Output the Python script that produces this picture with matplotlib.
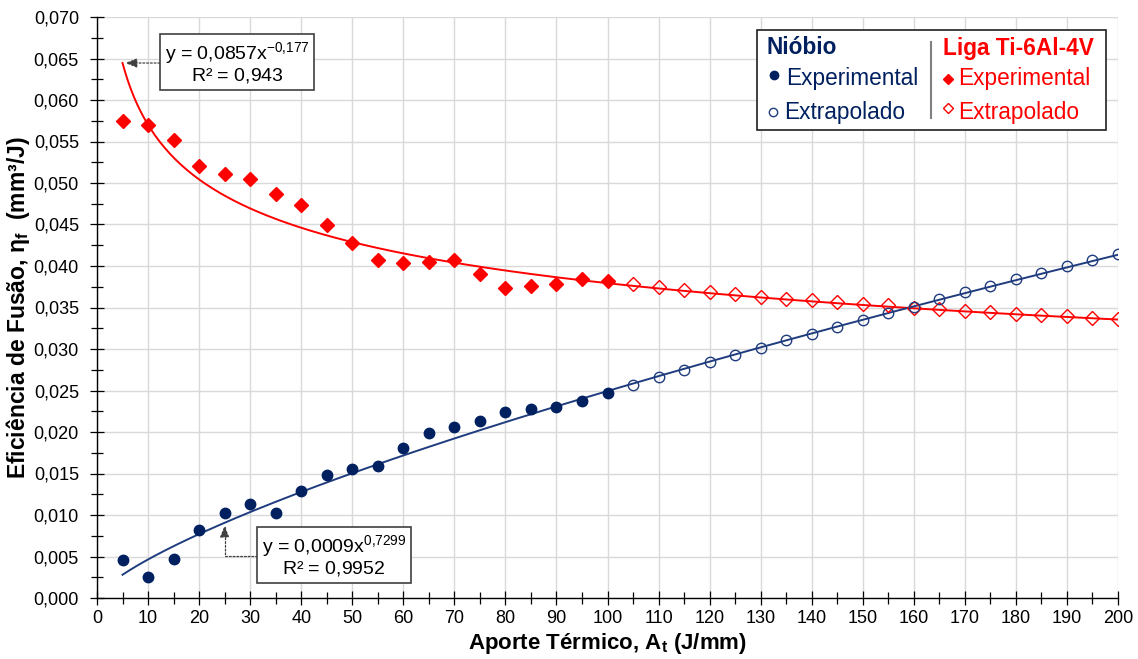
import numpy as np
import matplotlib
matplotlib.use("Agg")
import matplotlib.pyplot as plt
from matplotlib.lines import Line2D
from matplotlib.patches import Rectangle
from matplotlib.ticker import MultipleLocator, FuncFormatter

plt.rcParams['font.family'] = ['Liberation Sans', 'DejaVu Sans']

# Heat input (J/mm)
x_exp = [5, 10, 15, 20, 25, 30, 35, 40, 45, 50, 55, 60, 65, 70, 75, 80, 85, 90, 95, 100]
x_ext = [105, 110, 115, 120, 125, 130, 135, 140, 145, 150,
         155, 160, 165, 170, 175, 180, 185, 190, 195, 200]

# Niobium – melting efficiency (mm³/J)
nb_exp = [0.00458, 0.00257, 0.00466, 0.00816, 0.01020, 0.01133, 0.01028, 0.01285,
          0.01482, 0.01550, 0.01594, 0.01811, 0.01988, 0.02064, 0.02133, 0.02245,
          0.02274, 0.02305, 0.02377, 0.02470]
nb_ext = [0.02570, 0.02663, 0.02750, 0.02840, 0.02928, 0.03010, 0.03105, 0.03185,
          0.03269, 0.03350, 0.03434, 0.03510, 0.03600, 0.03683, 0.03760, 0.03840,
          0.03920, 0.04000, 0.04076, 0.04148]

# Ti-6Al-4V alloy – melting efficiency (mm³/J)
ti_exp = [0.0575, 0.0570, 0.0552, 0.0521, 0.0511, 0.0505, 0.0487, 0.0474, 0.0449,
          0.0428, 0.0407, 0.0404, 0.0405, 0.0407, 0.0390, 0.0374, 0.0376, 0.0378,
          0.0384, 0.0382]
ti_ext = [0.0378, 0.03743, 0.0371, 0.03687, 0.03659, 0.0363, 0.03606, 0.03587,
          0.03563, 0.03542, 0.03527, 0.0350, 0.03478, 0.03461, 0.03442, 0.03425,
          0.0341, 0.03394, 0.03377, 0.03361]

# power-law trendlines y = a·x^b and their R²
a_ti, b_ti, r2_ti = 0.0857, -0.177, 0.943
b_nb, r2_nb = 0.7299, 0.9952

NAVY = '#002060'
NAVY_LINE = '#1F3C7E'
RED = '#FF0000'

W, H = 1138, 659
fig = plt.figure(figsize=(W / 100, H / 100), dpi=100)


def fx(px):
    return px / W


def fy(py):
    return 1 - py / H


def br(v, nd):
    return f"{v:.{nd}f}".replace('.', '{,}')


ax = fig.add_axes([fx(97), fy(598), fx(1118) - fx(97), fy(17) - fy(598)])


# niobium prefactor: least squares in log space over the extrapolated points
def prefactor(x, y, b):
    x, y = np.asarray(x), np.asarray(y)
    return float(np.exp(np.mean(np.log(y) - b * np.log(x))))


a_nb = prefactor(x_ext, nb_ext, b_nb)

xs = np.linspace(5, 200, 400)
ax.plot(xs, a_ti * xs ** b_ti, color=RED, lw=1.4, zorder=3)
ax.plot(xs, a_nb * xs ** b_nb, color=NAVY_LINE, lw=1.4, zorder=3)

ax.plot(x_exp, ti_exp, 'D', ms=7, color=RED, mec=RED, ls='none', zorder=4)
ax.plot(x_ext, ti_ext, 'D', ms=7, mfc='none', mec=RED, mew=1.0, ls='none', zorder=4)
ax.plot(x_exp, nb_exp, 'o', ms=7.5, color=NAVY, mec=NAVY, ls='none', zorder=4)
ax.plot(x_ext, nb_ext, 'o', ms=7.5, mfc='none', mec=NAVY_LINE, mew=1.0, ls='none', zorder=4)

ax.set_xlim(0, 200)
ax.set_ylim(0, 0.070)
ax.xaxis.set_major_locator(MultipleLocator(10))
ax.xaxis.set_minor_locator(MultipleLocator(5))
ax.yaxis.set_major_locator(MultipleLocator(0.005))
ax.yaxis.set_minor_locator(MultipleLocator(0.0025))
ax.yaxis.set_major_formatter(FuncFormatter(lambda v, p: f"{v:.3f}".replace('.', ',')))
ax.xaxis.set_major_formatter(FuncFormatter(lambda v, p: f"{v:.0f}"))
ax.tick_params(which='major', direction='inout', length=10, width=0.9, colors='black',
               labelsize=13)
ax.tick_params(which='minor', direction='inout', length=9, width=0.9, colors='black')
ax.tick_params(axis='y', which='major', pad=8)
ax.tick_params(axis='x', which='major', pad=3.5)

ax.grid(True, which='major', color='#D9D9D9', lw=1.0, zorder=0)
ax.set_axisbelow(True)
for s in ('top', 'right'):
    ax.spines[s].set_visible(False)
for s in ('left', 'bottom'):
    ax.spines[s].set_color('black')
    ax.spines[s].set_linewidth(1.0)

ax.set_xlabel("Aporte Térmico, A$_\\mathregular{t}$ (J/mm)", fontsize=16, fontweight='bold',
              labelpad=3)
ax.set_ylabel("Eficiência de Fusão, η$_\\mathregular{f}$  (mm³/J)", fontsize=16.5,
              fontweight='bold', labelpad=1)

# equation boxes with dotted leader arrows
bbox = dict(boxstyle='square,pad=0.22', fc='white', ec='#404040', lw=1.2)
arrow = dict(arrowstyle='-|>,head_length=0.5,head_width=0.2', ls=(0, (1.5, 1.5)),
             color='#404040', lw=0.9, shrinkA=0, shrinkB=2)
ax.annotate(f"y = $\\mathregular{{{br(a_ti, 4)}x^{{{br(b_ti, 3)}}}}}$\n"
            f"R² = $\\mathregular{{{br(r2_ti, 3)}}}$",
            xy=(5, a_ti * 5 ** b_ti), xycoords='data',
            xytext=(fx(237), fy(63)), textcoords='figure fraction',
            ha='center', va='center', fontsize=14, bbox=bbox, linespacing=1.0,
            arrowprops=arrow, zorder=6)

ax.annotate(f"y = $\\mathregular{{{br(a_nb, 4)}x^{{{br(b_nb, 4)}}}}}$\n"
            f"R² = $\\mathregular{{{br(r2_nb, 4)}}}$",
            xy=(25, a_nb * 25 ** b_nb), xycoords='data',
            xytext=(fx(334), fy(556)), textcoords='figure fraction',
            ha='center', va='center', fontsize=14, bbox=bbox, linespacing=1.0,
            arrowprops=dict(arrow, connectionstyle='angle,angleA=180,angleB=90,rad=0'),
            zorder=6)

# legend panel
fig.patches.append(Rectangle((fx(757), fy(130)), fx(1106) - fx(757), fy(30) - fy(130),
                             transform=fig.transFigure, fc='white', ec='#202020', lw=1.2,
                             zorder=10))
fig.lines.append(Line2D([fx(931), fx(931)], [fy(42), fy(118)], transform=fig.transFigure,
                        color='#808080', lw=1.5, zorder=11))
LFS = 16.3
fig.text(fx(767), fy(48), "Nióbio", color=NAVY, fontsize=LFS, fontweight='bold',
         va='center', ha='left', zorder=11)
fig.text(fx(943), fy(48), "Liga Ti-6Al-4V", color=RED, fontsize=LFS, fontweight='bold',
         va='center', ha='left', zorder=11)
fig.lines.append(Line2D([fx(774)], [fy(75)], marker='o', ms=6, color=NAVY,
                        transform=fig.transFigure, zorder=11))
fig.lines.append(Line2D([fx(773)], [fy(112)], marker='o', ms=6, mfc='none', mec=NAVY_LINE,
                        mew=1.0, transform=fig.transFigure, zorder=11))
fig.lines.append(Line2D([fx(948)], [fy(79)], marker='D', ms=5, color=RED,
                        transform=fig.transFigure, zorder=11))
fig.lines.append(Line2D([fx(948)], [fy(108)], marker='D', ms=5, mfc='none', mec=RED,
                        mew=1.0, transform=fig.transFigure, zorder=11))
fig.text(fx(786), fy(79), "Experimental", color=NAVY, fontsize=LFS, va='center',
         ha='left', zorder=11)
fig.text(fx(784), fy(112), "Extrapolado", color=NAVY, fontsize=LFS, va='center',
         ha='left', zorder=11)
fig.text(fx(958), fy(79), "Experimental", color=RED, fontsize=LFS, va='center',
         ha='left', zorder=11)
fig.text(fx(958), fy(112), "Extrapolado", color=RED, fontsize=LFS, va='center',
         ha='left', zorder=11)

fig.savefig("out.png", dpi=100)
